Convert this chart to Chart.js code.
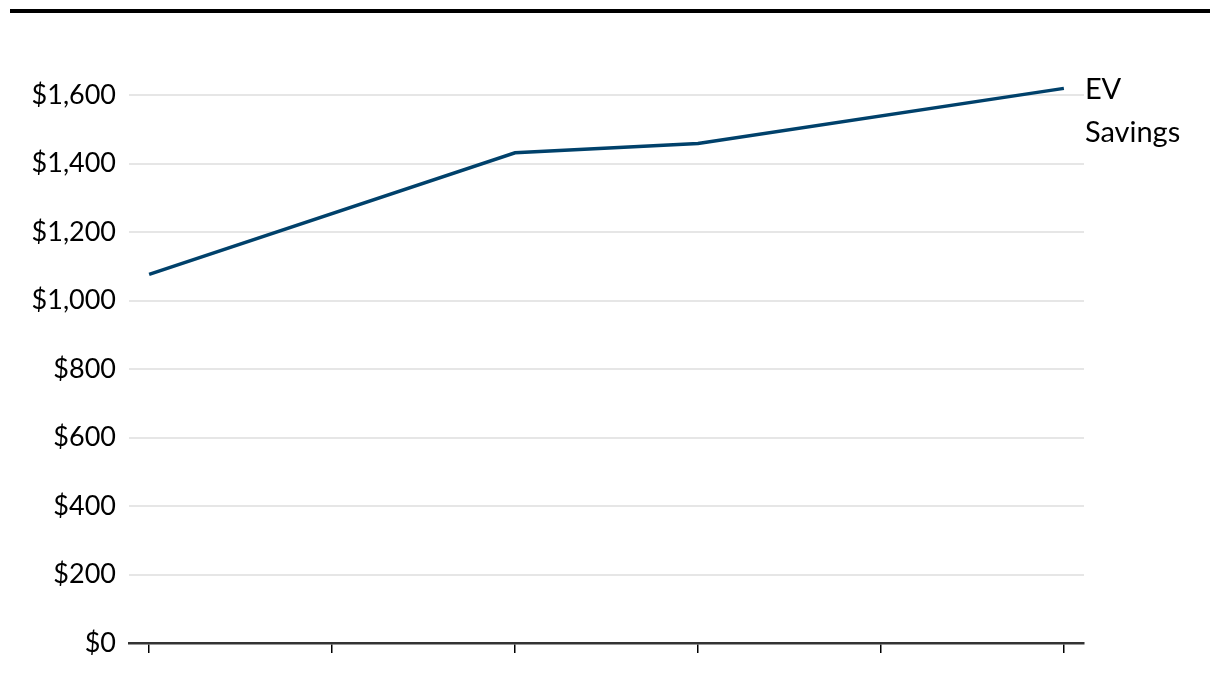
<!DOCTYPE html>
<html>
<head>
<meta charset="utf-8">
<script src="https://cdn.jsdelivr.net/npm/chart.js@4.4.0/dist/chart.umd.min.js"></script>
<style>
    html, body { margin: 0; padding: 0; background: #fff; }
    #wrap { position: relative; width: 1220px; height: 678px; }
    #rule { position: absolute; left: 10px; top: 9px; width: 1200px; height: 4px; background: #000; }
</style>
</head>
<body>
<div id="wrap">
    <div id="rule"></div>
    <canvas id="evChart" width="1220" height="678"></canvas>
</div>
<script>
const periods = [0, 2, 3, 5];
const evSavings = [1077, 1432, 1459, 1620];
const periodTicks = [0, 1, 2, 3, 4, 5];
const dollarTicks = [0, 200, 400, 600, 800, 1000, 1200, 1400, 1600];
const seriesLabel = ["EV", "Savings"];

const FONT = "Lato, 'Open Sans', sans-serif";
const LINE_COLOR = "#00416b";

// series label drawn at the end of the line
const endLabel = {
    id: "endLabel",
    afterDatasetsDraw(chart) {
        const meta = chart.getDatasetMeta(0);
        const last = meta.data[meta.data.length - 1];
        const ctx = chart.ctx;
        ctx.save();
        ctx.font = "29px " + FONT;
        ctx.fillStyle = "#000";
        ctx.textAlign = "left";
        ctx.textBaseline = "alphabetic";
        seriesLabel.forEach((line, i) => {
            ctx.fillText(line, last.x + 21, last.y + 11 + i * 43);
        });
        ctx.restore();
    }
};

new Chart(document.getElementById("evChart").getContext("2d"), {
    type: "line",
    data: {
        datasets: [{
            label: seriesLabel.join(" "),
            data: periods.map((p, i) => ({ x: p, y: evSavings[i] })),
            borderColor: LINE_COLOR,
            borderWidth: 3.5,
            pointRadius: 0,
            tension: 0,
            fill: false
        }]
    },
    options: {
        responsive: false,
        animation: false,
        layout: { padding: { top: 61, right: 136, left: 0, bottom: 0 } },
        plugins: { legend: { display: false }, tooltip: { enabled: false } },
        scales: {
            x: {
                type: "linear",
                min: -0.11,
                max: 5.11,
                afterBuildTicks: s => { s.ticks = periodTicks.map(v => ({ value: v })); },
                afterFit: s => { s.height = 35; },
                border: { display: true, color: "#333", width: 2.5 },
                grid: { drawOnChartArea: false, drawTicks: true, tickLength: 10, color: "#000", lineWidth: 1.5 },
                ticks: { callback: () => "", padding: 0 }
            },
            y: {
                min: 0,
                max: 1700,
                afterBuildTicks: s => { s.ticks = dollarTicks.map(v => ({ value: v })); },
                afterFit: s => { s.width = 129; },
                border: { display: false },
                grid: { color: "#e6e6e6", lineWidth: 2, drawTicks: false },
                ticks: {
                    padding: 13,
                    color: "#000",
                    font: { family: FONT, size: 27 },
                    callback: v => "$" + v.toLocaleString("en-US")
                }
            }
        }
    },
    plugins: [endLabel]
});
</script>
</body>
</html>
